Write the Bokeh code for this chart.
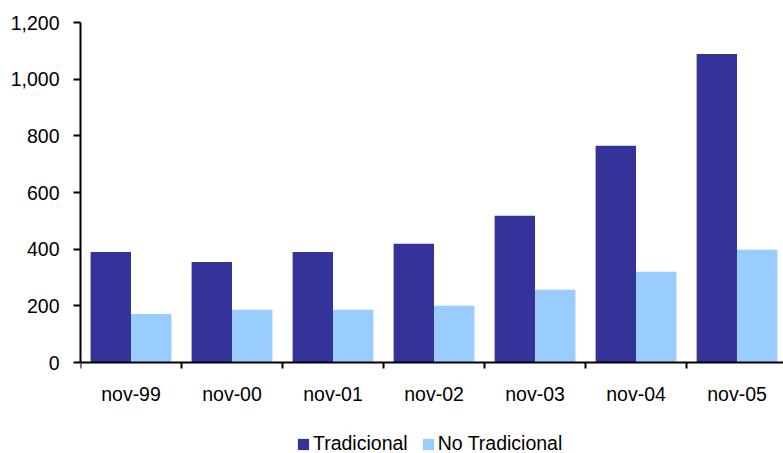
from bokeh.plotting import figure
from bokeh.models import (ColumnDataSource, FixedTicker, NumeralTickFormatter,
                          Legend, LegendItem, Range1d)
from bokeh.embed import file_html
from bokeh.resources import INLINE

categories = ["nov-99", "nov-00", "nov-01", "nov-02", "nov-03", "nov-04", "nov-05"]
tradicional = [390, 355, 390, 419, 518, 765, 1089]
no_tradicional = [171, 186, 186, 200, 257, 320, 398]
y_ticks = [0, 200, 400, 600, 800, 1000, 1200]

FONT = "Liberation Sans"
FSIZE = "19.5px"
DARK = "#333399"
LIGHT = "#99CCFF"

idx = list(range(len(categories)))
src = ColumnDataSource(dict(
    x1=[i + 0.3 for i in idx],
    x2=[i + 0.7 for i in idx],
    t=tradicional,
    nt=no_tradicional,
))

# frame spans 22..453 px; value 0 sits at 362 px, 1200 at 22 px
Y_MAX = 1200
y_min = -Y_MAX * (453 - 362) / (362 - 22)

p = figure(width=783, height=453, output_backend="svg", toolbar_location=None,
           x_range=Range1d(0, 6.96), y_range=Range1d(y_min, Y_MAX),
           min_border_left=80, min_border_right=0, min_border_top=22,
           min_border_bottom=0)
p.xgrid.visible = False
p.ygrid.visible = False
p.outline_line_color = None
p.background_fill_color = "white"
p.border_fill_color = "white"

r1 = p.vbar(x="x1", top="t", width=0.4, bottom=0, source=src,
            fill_color=DARK, line_color=None)
r2 = p.vbar(x="x2", top="nt", width=0.4, bottom=0, source=src,
            fill_color=LIGHT, line_color=None)

# x axis at value 0: labels at category centers, tick marks at boundaries
xa = p.xaxis[0]
xa.fixed_location = 0
xa.ticker = FixedTicker(ticks=[i + 0.5 for i in idx],
                        minor_ticks=list(range(len(categories) + 1)))
xa.major_label_overrides = {i + 0.5: c for i, c in zip(idx, categories)}
xa.major_tick_out = 0
xa.major_tick_in = 0
xa.minor_tick_out = 6
xa.minor_tick_in = 0
xa.minor_tick_line_width = 2
xa.minor_tick_line_color = "black"
xa.axis_line_width = 2
xa.axis_line_color = "black"
xa.major_label_text_font = FONT
xa.major_label_text_font_size = FSIZE
xa.major_label_text_color = "black"
xa.major_label_standoff = 14

ya = p.yaxis[0]
ya.bounds = (0, Y_MAX)
ya.ticker = FixedTicker(ticks=y_ticks)
ya.formatter = NumeralTickFormatter(format="0,0")
ya.major_tick_out = 7
ya.major_tick_in = 0
ya.major_tick_line_width = 2
ya.major_tick_line_color = "black"
ya.minor_tick_line_color = None
ya.axis_line_width = 2
ya.axis_line_color = "black"
ya.major_label_text_font = FONT
ya.major_label_text_font_size = FSIZE
ya.major_label_text_color = "black"
ya.major_label_standoff = 14

legend = Legend(items=[LegendItem(label="Tradicional", renderers=[r1]),
                       LegendItem(label="No Tradicional", renderers=[r2])],
                orientation="horizontal", location=(216, -2),
                glyph_width=14, glyph_height=14, label_standoff=3,
                spacing=13, padding=0, margin=0,
                label_text_font=FONT, label_text_font_size=FSIZE,
                label_text_color="black",
                background_fill_alpha=0, border_line_alpha=0)
p.add_layout(legend, "center")

open("out.html", "w").write(file_html(p, INLINE))
